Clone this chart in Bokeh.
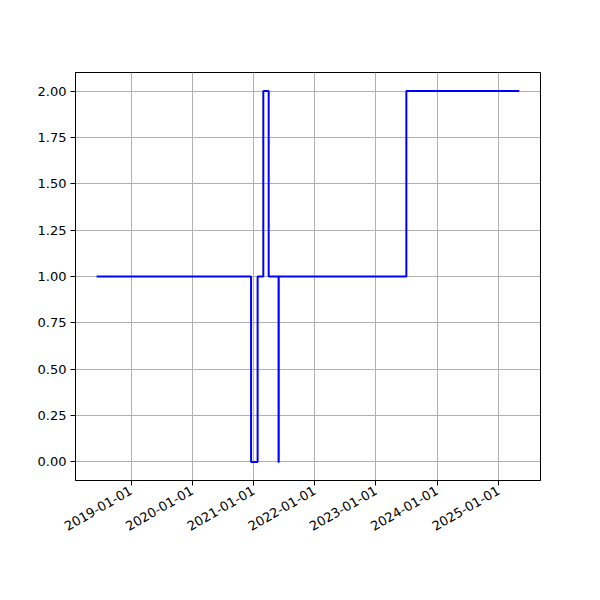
import datetime as dt
from bokeh.plotting import figure
from bokeh.models import FixedTicker, DatetimeTickFormatter, Range1d, NumeralTickFormatter
from bokeh.embed import file_html
from bokeh.resources import INLINE
import math

dates = ["2018-06-10", "2020-12-17", "2021-01-25", "2021-02-28", "2021-04-01",
         "2021-05-30", "2021-05-31", "2023-07-01", "2025-05-05"]
values = [1, 0, 1, 2, 1, 0, 1, 2, 2]
tick_dates = ["2019-01-01", "2020-01-01", "2021-01-01", "2022-01-01",
              "2023-01-01", "2024-01-01", "2025-01-01"]
y_ticks = [0.0, 0.25, 0.5, 0.75, 1.0, 1.25, 1.5, 1.75, 2.0]

def to_dt(s):
    return dt.datetime.strptime(s, "%Y-%m-%d")

def to_ms(s):
    return (to_dt(s) - dt.datetime(1970, 1, 1)).total_seconds() * 1000.0

xs = [to_dt(d) for d in dates]
x0 = to_ms(dates[0]); x1 = to_ms(dates[-1])
pad = (x1 - x0) * 0.05
y0, y1 = min(values), max(values)
ypad = (y1 - y0) * 0.05

p = figure(width=584, height=584, x_axis_type="datetime",
           output_backend="svg", toolbar_location=None,
           x_range=Range1d(x0 - pad, x1 + pad),
           y_range=Range1d(y0 - ypad, y1 + ypad),
           min_border_left=75, min_border_right=44,
           min_border_top=72, min_border_bottom=104)
p.frame_width = 465
p.frame_height = 408

p.step(xs, values, mode="after", line_color="#0000ff", line_width=2)

p.xaxis.ticker = FixedTicker(ticks=[to_ms(t) for t in tick_dates])
fmt = "%Y-%m-%d"
p.xaxis.formatter = DatetimeTickFormatter(years=fmt, months=fmt, days=fmt, hours=fmt,
                                          minutes=fmt, seconds=fmt, milliseconds=fmt,
                                          microseconds=fmt, hourmin=fmt, minsec=fmt)
p.xaxis.major_label_orientation = math.pi / 6
p.yaxis.ticker = FixedTicker(ticks=y_ticks)
p.yaxis.formatter = NumeralTickFormatter(format="0.00")

for ax in (p.xaxis, p.yaxis):
    ax.major_label_text_font = "DejaVu Sans"
    ax.major_label_text_font_size = "13px"
    ax.major_label_text_color = "black"
    ax.axis_line_color = "black"
    ax.major_tick_line_color = "black"
    ax.major_tick_out = 5
    ax.major_tick_in = 0
    ax.minor_tick_line_color = None
    ax.major_label_standoff = 4

p.grid.grid_line_color = "#b0b0b0"
p.grid.grid_line_width = 1
p.outline_line_color = "black"
p.outline_line_width = 1
p.background_fill_color = "white"
p.border_fill_color = "white"

open("out.html", "w").write(file_html(p, INLINE))
